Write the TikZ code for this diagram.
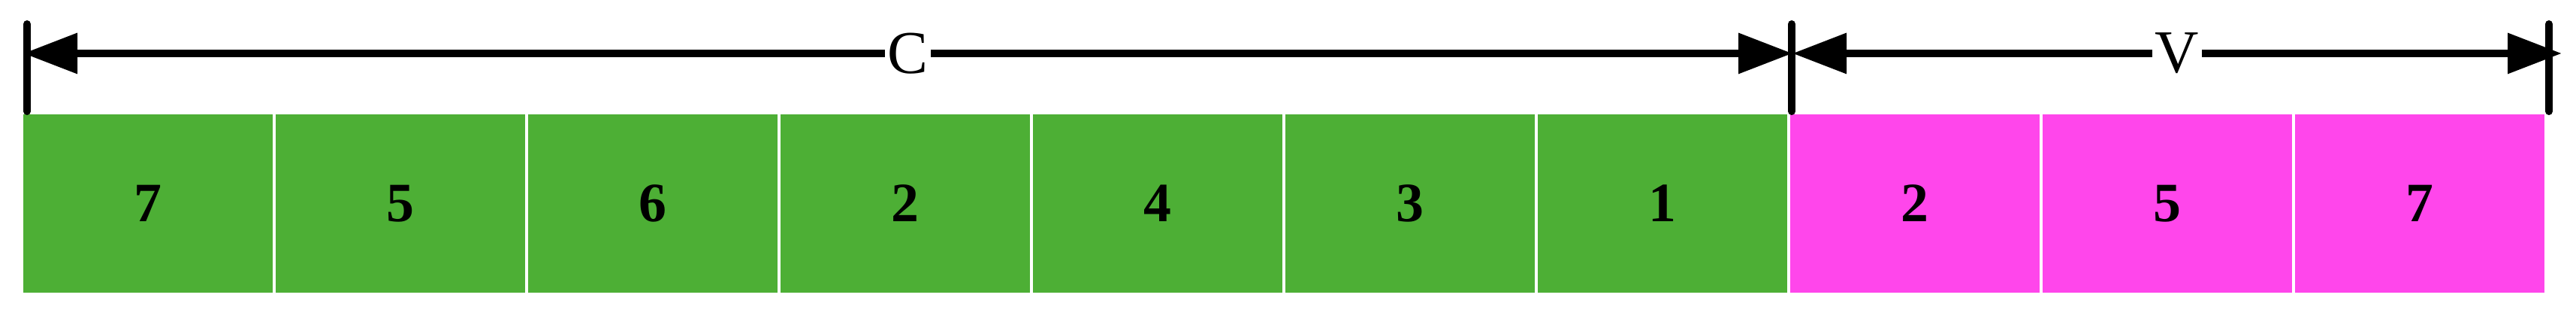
\documentclass[tikz,border=0pt]{standalone}
\usepackage{fontspec}
\setmainfont{Liberation Serif}
\usetikzlibrary{arrows.meta}
\definecolor{cgreen}{RGB}{77,175,53}
\definecolor{vpink}{RGB}{255,70,235}
\tikzset{
    cell/.style={minimum width=3.32cm, minimum height=2.37cm, inner sep=0pt,
        font=\fontsize{21}{21}\selectfont\bfseries},
    dimline/.style={line width=2.85pt,
        {Triangle[length=0.72cm,width=0.52cm]}-{Triangle[length=0.72cm,width=0.52cm]}},
    tickbar/.style={line width=2.85pt, line cap=round},
    dimlabel/.style={fill=white, inner sep=1pt, font=\fontsize{23}{23}\selectfont}
}
\begin{document}
\begin{tikzpicture}
    \useasboundingbox (0,0) rectangle (34.29,4.2);
    % Celdas
    \foreach \i/\val/\col in {
        0/7/cgreen, 1/5/cgreen, 2/6/cgreen, 3/2/cgreen, 4/4/cgreen,
        5/3/cgreen, 6/1/cgreen, 7/2/vpink, 8/5/vpink, 9/7/vpink} {
        \node[cell, fill=\col] (cell\i) at (1.97+3.36*\i, 1.495) {\val};
    }

    % Marcas
    \coordinate (barL) at (0.36, 3.88);
    \coordinate (barM) at (23.85, 3.88);
    \coordinate (barR) at (33.93, 3.88);
    \draw[tickbar] (barL) -- (0.36, 2.72);
    \draw[tickbar] (barM) -- (23.85, 2.72);
    \draw[tickbar] (barR) -- (33.93, 2.72);

    % Cotas
    \coordinate (cL) at (0.31, 3.49);
    \coordinate (cR) at (23.86, 3.49);
    \coordinate (vR) at (34.10, 3.49);
    \draw[dimline] (cL) -- node[dimlabel] (labC) {C} (cR);
    \draw[dimline] (cR) -- node[dimlabel] (labV) {V} (vR);
\end{tikzpicture}
\end{document}
